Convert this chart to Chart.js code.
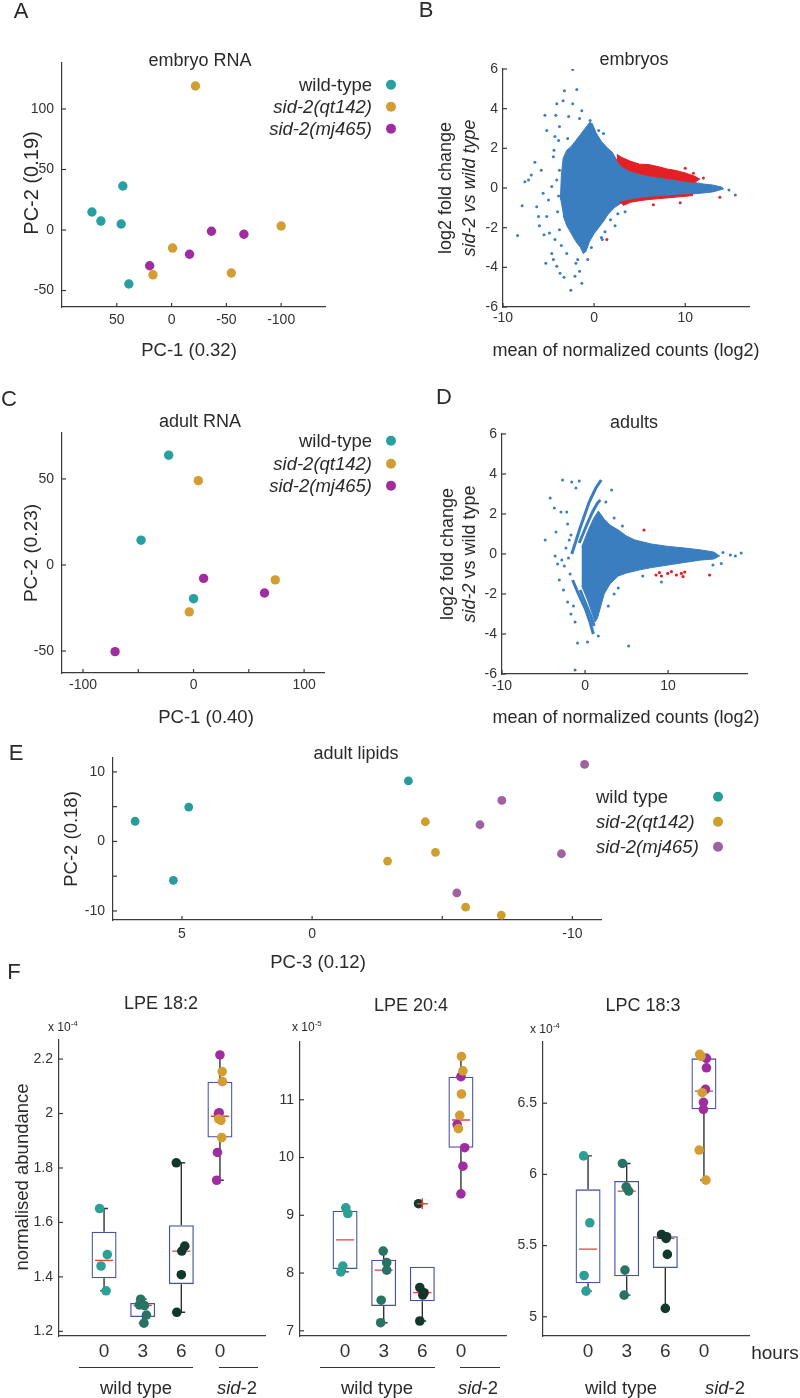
<!DOCTYPE html>
<html><head><meta charset="utf-8">
<script src="https://cdn.jsdelivr.net/npm/chart.js@4.4.1/dist/chart.umd.min.js"></script>
<style>
html,body{margin:0;padding:0;background:#fff;}
#page{position:relative;width:800px;height:1398px;overflow:hidden;font-family:"Liberation Sans",Arial,Helvetica,sans-serif;color:#2a2a2a;}
canvas.layer{position:absolute;left:0;top:0;width:800px;height:1398px;}
.t{position:absolute;white-space:nowrap;transform:translate(-50%,-50%);line-height:1;}
.r{transform:translate(-50%,-50%) rotate(-90deg);}
.letter{font-size:22px;}
.title{font-size:18px;}
.axt{font-size:18.5px;}
.leg{position:absolute;display:flex;align-items:center;justify-content:flex-end;font-size:18.5px;line-height:1;transform:translateY(-50%);white-space:nowrap;}
.legE{justify-content:space-between;width:127px;}
.dot{display:inline-block;width:10px;height:10px;border-radius:50%;margin-left:14px;}
.legE .dot{margin-left:0;}
.ul{position:absolute;height:0;border-top:1.3px solid #333;}
.sm{position:absolute;font-size:12px;line-height:1;transform:translateY(-50%);white-space:nowrap;}
.sm sup{font-size:8px;vertical-align:5px;line-height:0;}
</style></head>
<body>
<div id="page">
<canvas id="cA" class="layer" width="800" height="1398"></canvas>
<canvas id="cB" class="layer" width="800" height="1398"></canvas>
<canvas id="cC" class="layer" width="800" height="1398"></canvas>
<canvas id="cD" class="layer" width="800" height="1398"></canvas>
<canvas id="cE" class="layer" width="800" height="1398"></canvas>
<canvas id="cF1" class="layer" width="800" height="1398"></canvas>
<canvas id="cF2" class="layer" width="800" height="1398"></canvas>
<canvas id="cF3" class="layer" width="800" height="1398"></canvas>

<!-- panel letters -->
<div class="t letter" style="left:21px;top:11px">A</div>
<div class="t letter" style="left:426px;top:10px">B</div>
<div class="t letter" style="left:9px;top:399px">C</div>
<div class="t letter" style="left:444px;top:397px">D</div>
<div class="t letter" style="left:16px;top:753px">E</div>
<div class="t letter" style="left:14px;top:972px">F</div>

<!-- titles -->
<div class="t title" style="left:200px;top:60px">embryo RNA</div>
<div class="t title" style="left:634px;top:59px">embryos</div>
<div class="t title" style="left:200px;top:421px">adult RNA</div>
<div class="t title" style="left:634px;top:422px">adults</div>
<div class="t title" style="left:356px;top:753px">adult lipids</div>
<div class="t title" style="left:161px;top:1003px">LPE 18:2</div>
<div class="t title" style="left:411px;top:1005px">LPE 20:4</div>
<div class="t title" style="left:643px;top:1005px">LPC 18:3</div>

<!-- axis titles -->
<div class="t axt" style="left:189px;top:350px">PC-1 (0.32)</div>
<div class="t axt r" style="left:31px;top:183px;font-size:20px">PC-2 (0.19)</div>
<div class="t axt" style="left:626px;top:350px;font-size:18px">mean of normalized counts (log2)</div>
<div class="t axt r" style="left:445px;top:188px;font-size:18px">log2 fold change</div>
<div class="t axt r" style="left:469px;top:188px;font-size:18px"><i>sid-2 vs wild type</i></div>
<div class="t axt" style="left:206px;top:717px">PC-1 (0.40)</div>
<div class="t axt r" style="left:30px;top:553px;font-size:19px">PC-2 (0.23)</div>
<div class="t axt" style="left:626px;top:717px;font-size:18px">mean of normalized counts (log2)</div>
<div class="t axt r" style="left:447px;top:554px;font-size:18px">log2 fold change</div>
<div class="t axt r" style="left:469px;top:554px;font-size:18px"><i>sid-2</i> vs wild type</div>
<div class="t axt" style="left:318px;top:962px">PC-3 (0.12)</div>
<div class="t axt r" style="left:71px;top:839px">PC-2 (0.18)</div>
<div class="t axt r" style="left:22px;top:1177px">normalised abundance</div>

<!-- legends -->
<div class="leg" style="right:404px;top:85px"><span>wild-type</span><span class="dot" style="background:rgb(40,160,160)"></span></div>
<div class="leg" style="right:404px;top:107px"><i>sid-2(qt142)</i><span class="dot" style="background:rgb(210,157,50)"></span></div>
<div class="leg" style="right:404px;top:129px"><i>sid-2(mj465)</i><span class="dot" style="background:rgb(160,45,160)"></span></div>
<div class="leg" style="right:404px;top:441px"><span>wild-type</span><span class="dot" style="background:rgb(40,160,160)"></span></div>
<div class="leg" style="right:404px;top:464px"><i>sid-2(qt142)</i><span class="dot" style="background:rgb(210,157,50)"></span></div>
<div class="leg" style="right:404px;top:486px"><i>sid-2(mj465)</i><span class="dot" style="background:rgb(160,45,160)"></span></div>
<div class="leg legE" style="left:596px;top:797px"><span>wild type</span><span class="dot" style="background:rgb(40,155,155)"></span></div>
<div class="leg legE" style="left:596px;top:822px"><i>sid-2(qt142)</i><span class="dot" style="background:rgb(205,160,45)"></span></div>
<div class="leg legE" style="left:596px;top:847px"><i>sid-2(mj465)</i><span class="dot" style="background:rgb(158,98,160)"></span></div>

<!-- F annotations -->
<div class="sm" style="left:48px;top:1027px">x 10<sup>-4</sup></div>
<div class="sm" style="left:292px;top:1027px">x 10<sup>-5</sup></div>
<div class="sm" style="left:530px;top:1029px">x 10<sup>-4</sup></div>
<div class="ul" style="left:79px;top:1367px;width:114px"></div>
<div class="ul" style="left:219px;top:1367px;width:39px"></div>
<div class="ul" style="left:320px;top:1367px;width:115px"></div>
<div class="ul" style="left:460px;top:1367px;width:40px"></div>
<div class="t axt" style="left:136px;top:1388px">wild type</div>
<div class="t axt" style="left:237px;top:1388px"><i>sid</i>-2</div>
<div class="t axt" style="left:377px;top:1388px">wild type</div>
<div class="t axt" style="left:478px;top:1388px"><i>sid</i>-2</div>
<div class="t axt" style="left:621px;top:1388px">wild type</div>
<div class="t axt" style="left:725px;top:1388px"><i>sid</i>-2</div>
<div class="t axt" style="left:775px;top:1352px;font-size:19px">hours</div>
</div>

<script>
// ---------------- DATA ----------------
// Panel A: embryo RNA PCA (PC-1, PC-2)
const aWildX = [72.7, 64.5, 44.5, 46, 39];
const aWildY = [14.9, 7.4, 36.4, 5, -44.6];
const aQtX = [-21.8, -0.9, 17, -54.5, -100];
const aQtY = [119, -14.9, -37, -35.5, 3.3];
const aMjX = [20, -16.4, -36.4, -66];
const aMjY = [-29.5, -20, -1, -3.5];
const aTicksX = [-100, -50, 0, 50];
const aLabelsX = ['-100', '-50', '0', '50'];
const aTicksY = [-50, 0, 50, 100];
const aLabelsY = ['-50', '0', '50', '100'];

// Panel B: embryo MA plot (dense region outline + sparse genes)
const bCoreX = [-3.7,-3.6,-3.4,-3.0,-2.5,-2.0,-1.5,-1.0,-0.5,-0.2,0.2,0.8,1.5,2.0,2.5,3.0,4.0,5.0,6.0,7.0,8.0,9.0,10.0,11.0,12.0,13.0,14.0,14.2,13.0,12.0,10.8,10.0,9.0,8.0,7.0,6.0,5.0,4.0,3.0,2.2,1.5,1.0,0.5,0.0,-0.5,-0.9,-1.2,-1.5,-2.0,-2.5,-3.0,-3.4];
const bCoreY = [-0.6,0.6,1.5,1.9,2.1,2.4,2.7,3.0,3.3,3.25,2.8,2.35,2.0,1.8,1.4,1.1,0.85,0.72,0.62,0.55,0.48,0.42,0.33,0.28,0.2,0.15,0.05,-0.05,-0.2,-0.25,-0.3,-0.34,-0.37,-0.4,-0.44,-0.47,-0.52,-0.6,-0.75,-1.0,-1.35,-1.7,-2.0,-2.3,-2.7,-3.2,-3.3,-3.0,-2.7,-2.3,-1.9,-1.4];
const bRedUpX = [2.5,3.0,4.0,5.0,6.0,7.0,8.0,9.0,10.0,11.0,11.6,11.0,10.0,9.0,8.0,7.0,6.0,5.0,4.0,3.0,2.5];
const bRedUpY = [1.7,1.55,1.35,1.2,1.18,1.08,0.96,0.88,0.76,0.6,0.45,0.28,0.33,0.42,0.48,0.55,0.62,0.72,0.85,1.1,1.4];
const bRedLoX = [2.8,4.0,5.0,6.0,7.0,8.0,9.0,10.0,10.8,10.8,10.0,9.0,8.0,7.0,6.0,5.0,4.0,3.2];
const bRedLoY = [-0.72,-0.6,-0.52,-0.47,-0.44,-0.4,-0.37,-0.34,-0.3,-0.38,-0.42,-0.46,-0.5,-0.54,-0.58,-0.64,-0.72,-0.88];
const bSparseX = [-2.35,-1.9,-3.26,-3.4,-4.1,-2.35,-1.35,-5.4,-4.2,-5.2,-4.3,-3.8,-6.5,-7.2,-7.6,-6.9,-7.9,-8.4,-6.3,-6.1,-5.5,-5.3,-4.9,-4.3,-4.65,-4.47,-4.1,-3.74,-3.3,-2.56,-1.35,-2.1,-5.6,-5.0,-4.65,-5.2,-4.47,-0.44,1.03,15.5,14.8,1.2,0.8,-0.3,-0.7,-3.9,-4.4,-5.8,-6.0,-3.6,-2.8,-1.6,0.5,1.8,2.6,-3.0,-2.0,-1.6,-4.0,-3.8,-3.9,-4.1,-3.8,-2.9,-1.8,0.9,2.3,3.4];
const bSparseY = [5.98,4.97,4.9,4.4,4.25,4.25,3.9,3.67,3.67,2.9,2.6,3.1,1.3,0.4,0.32,0.65,-0.9,-2.4,-0.94,-1.44,-2.36,-3.8,-2.27,-2.6,-3.3,-3.6,-3.95,-4.3,-4.5,-5.16,-4.8,-4.45,-0.27,-0.6,0.07,-1.44,1.57,3.4,2.75,-0.35,-0.1,-2.2,-2.5,-3.0,-3.6,2.4,1.9,0.9,-1.9,-2.9,3.6,3.5,2.9,-1.6,-1.3,-3.3,-3.8,-4.2,-1.2,0.9,-0.4,0.4,-2.1,2.5,-3.6,-2.6,-1.9,-1.2];
const bRedPtsX = [1.4, 9.45, 13.8, 10.0, 10.9, 12.0, 6.5];
const bRedPtsY = [-2.6, -0.74, -0.47, 0.99, 0.74, 0.5, -0.85];
const maTicksX = [-10, 0, 10];
const maLabelsX = ['-10', '0', '10'];
const maTicksY = [-6, -4, -2, 0, 2, 4, 6];
const maLabelsY = ['-6', '-4', '-2', '0', '2', '4', '6'];

// Panel C: adult RNA PCA
const cWildX = [-22.5, -47.5, 0];
const cWildY = [63.8, 14.4, -19.6];
const cQtX = [4.3, 73.9, -3.9];
const cQtY = [49, -8.7, -27.3];
const cMjX = [9.1, 64.2, -71];
const cMjY = [-7.8, -16.3, -50.4];
const cTicksX = [-100, -50, 0, 50, 100];
const cLabelsX = ['-100', '', '0', '', '100'];
const cTicksY = [-50, 0, 50];
const cLabelsY = ['-50', '0', '50'];

// Panel D: adult MA plot
const dCoreX = [-0.4,0.3,1.0,1.6,2.3,3.0,4.0,5.0,6.0,8.0,10.0,12.0,14.0,15.5,16.2,15.5,14.0,12.0,10.0,8.0,6.5,5.0,4.0,3.0,2.3,1.9,1.5,1.2,0.8,0.3,-0.4];
const dCoreY = [0.35,1.1,1.75,2.15,1.75,1.45,1.2,0.9,0.7,0.5,0.38,0.3,0.2,0.1,-0.1,-0.25,-0.3,-0.42,-0.55,-0.68,-0.8,-0.95,-1.1,-1.5,-2.0,-2.6,-3.2,-3.4,-2.9,-2.3,-1.6];
const dStreak1X = [-1.6, -0.6, 0.5, 1.3, 1.95];
const dStreak1Y = [0.0, 1.3, 2.6, 3.3, 3.7];
const dStreak2X = [-0.7, 0.2, 0.9, 1.5, 1.85];
const dStreak2Y = [0.55, 1.45, 2.1, 2.55, 2.7];
const dStreak3X = [-1.5, -0.8, 0.0, 0.6, 1.0];
const dStreak3Y = [-1.3, -2.0, -2.7, -3.4, -4.0];
const dStreak4X = [-0.6, 0.1, 0.7, 1.1];
const dStreak4Y = [-1.8, -2.5, -3.1, -3.6];
const dSparseX = [-4.8,-4.2,-3.7,-2.7,-1.6,-0.7,-1.1,3.2,-3.5,-2.9,-2.2,-2.1,-3.6,-3.3,-3.1,-2.5,-1.9,-1.7,-2.3,-2.0,-2.8,-1.8,-2.6,-2.1,-1.4,-1.7,-1.2,-0.9,0.3,1.6,5.25,-1.2,6.95,9.2,15.4,16.4,16.6,17.5,18.1,18.8,2.5,3.5,4.5,2.8,3.5,4.0];
const dSparseY = [0.7,2.8,2.3,3.7,3.6,3.65,3.3,3.2,1.1,2.1,2.1,1.5,-0.1,-0.5,-1.3,-0.6,0.7,0.95,0.3,-0.2,-0.3,-1.0,-1.8,-2.4,-2.6,-3.0,-3.4,-4.45,-4.4,-4.1,-4.6,-5.8,-1.1,-1.4,-0.55,-0.47,0.07,-0.05,-0.1,0.05,2.6,1.8,1.4,-2.6,-2.0,-1.7];
const dRedPtsX = [7.1, 8.55, 8.95, 9.96, 10.4, 11.0, 11.6, 12.0, 11.8, 9.2, 15.0];
const dRedPtsY = [1.2, -1.05, -0.93, -0.97, -0.88, -1.05, -0.97, -0.9, -1.13, -1.1, -1.05];

// Panel E: adult lipids PCA (PC-3, PC-2)
const eWildX = [6.8, 4.74, 5.33, -3.7];
const eWildY = [2.9, 4.94, -5.6, 8.7];
const eQtX = [-4.35, -4.74, -2.9, -5.9, -7.27];
const eQtY = [2.83, -1.58, -2.83, -9.45, -10.6];
const eMjX = [-10.47, -7.29, -6.45, -9.58, -5.56];
const eMjY = [11.08, 5.9, 2.4, -1.77, -7.4];
const eTicksX = [-10, -5, 0, 5];
const eLabelsX = ['-10', '', '0', '5'];
const eTicksY = [-10, -5, 0, 5, 10];
const eLabelsY = ['-10', '', '0', '', '10'];

// Panel F: box plots (groups: wild type 0h, 3h, 6h, sid-2 0h)
const fGroups = [1, 2, 3, 4];
const fGroupLabels = ['0', '3', '6', '0'];
// LPE 18:2 (x 1e-4)
const f1Q1 = [1.395, 1.2525, 1.3735, 1.912];
const f1Med = [1.461, 1.295, 1.495, 1.99];
const f1Q3 = [1.566, 1.3045, 1.59, 2.117];
const f1Lo = [1.349, 1.23, 1.27, 1.755];
const f1Hi = [1.651, 1.318, 1.819, 2.215];
const f1Wt0 = [1.651, 1.482, 1.44, 1.349];
const f1Wt3 = [1.318, 1.297, 1.295, 1.26, 1.23];
const f1Wt6 = [1.819, 1.513, 1.495, 1.408, 1.27];
const f1Qt = [2.154, 2.117, 1.98, 1.975, 1.912];
const f1Mj = [2.215, 2.003, 2.0, 1.857, 1.755];
const f1TicksY = [1.2, 1.4, 1.6, 1.8, 2.0, 2.2];
const f1LabelsY = ['1.2', '1.4', '1.6', '1.8', '2', '2.2'];
// LPE 20:4 (x 1e-5)
const f2Q1 = [8.07, 7.43, 7.51, 10.17];
const f2Med = [8.575, 8.05, 7.66, 10.65];
const f2Q3 = [9.08, 8.23, 8.11, 11.4];
const f2Lo = [8.02, 7.14, 7.17, 9.37];
const f2Hi = [9.13, 8.38, null, 11.75];
const f2Wt0 = [9.13, 9.03, 8.12, 8.02];
const f2Wt3 = [8.38, 8.18, 8.05, 7.53, 7.14];
const f2Wt6 = [9.2, 7.75, 7.66, 7.62, 7.17];
const f2Qt = [11.75, 11.5, 11.1, 10.73, 10.5];
const f2Mj = [11.4, 10.57, 10.17, 9.85, 9.37];
const f2OutGroup = [3];
const f2OutVal = [9.2];
const f2TicksY = [7, 8, 9, 10, 11];
const f2LabelsY = ['7', '8', '9', '10', '11'];
// LPC 18:3 (x 1e-4)
const f3Q1 = [5.235, 5.284, 5.343, 6.457];
const f3Med = [5.475, 5.883, 5.55, 6.585];
const f3Q3 = [5.895, 5.954, 5.566, 6.815];
const f3Lo = [5.18, 5.152, 5.059, 5.96];
const f3Hi = [6.13, 6.077, 5.578, 6.843];
const f3Wt0 = [6.13, 5.66, 5.29, 5.18];
const f3Wt3 = [6.077, 5.913, 5.883, 5.328, 5.152];
const f3Wt6 = [5.578, 5.562, 5.55, 5.438, 5.059];
const f3Qt = [6.843, 6.83, 6.574, 6.171, 5.96];
const f3Mj = [6.815, 6.749, 6.597, 6.506, 6.457];
const f3TicksY = [5, 5.5, 6, 6.5];
const f3LabelsY = ['5', '5.5', '6', '6.5'];

// horizontal jitter of the overlaid dots (layout, in group units)
const j1 = {wt0:[-0.117,0.084,-0.078,0.052], wt3:[-0.052,-0.084,0.045,0.097,0.032], wt6:[-0.13,0.09,0.013,0,-0.117], qt:[0.058,0.065,-0.032,0.026,0.045], mj:[0,-0.019,-0.039,-0.065,-0.084]};
const j2 = {wt0:[0.019,0.071,-0.058,-0.11], wt3:[-0.013,0.078,0.078,-0.065,-0.078], wt6:[-0.097,-0.065,0.045,0.013,-0.065], qt:[0.013,0.052,0.013,-0.032,-0.065], mj:[0,-0.097,0.097,0.052,0]};
const j3 = {wt0:[-0.116,0.045,-0.103,-0.052], wt3:[-0.11,-0.013,0.052,-0.045,-0.065], wt6:[-0.097,0.032,0.019,0.052,0], qt:[-0.11,-0.078,-0.045,-0.123,0.052], mj:[0.065,0.065,0.039,-0.013,-0.013]};

// ---------------- STYLE ----------------
const FONT = '"Liberation Sans", Arial, Helvetica, sans-serif';
Chart.defaults.font.family = FONT;
const W = 800, H = 1398;
const TEAL = 'rgb(40,160,160)', OCHRE = 'rgb(210,157,50)', PURPLE = 'rgb(160,45,160)';
const E_TEAL = 'rgb(40,155,155)', E_OCHRE = 'rgb(205,160,45)', E_PURPLE = 'rgb(158,98,160)';
const MA_BLUE = 'rgb(58,126,192)', MA_RED = 'rgb(228,32,36)';
const BOX = 'rgb(72,82,165)', MED = 'rgb(232,62,55)', WHISK = '#333';
const WT0 = 'rgb(45,160,150)', WT3 = 'rgb(40,115,100)', WT6 = 'rgb(18,55,45)';
const AXC = '#3a3a3a';

function xy(xs, ys) { return xs.map((x, i) => ({x: x, y: ys[i]})); }
function dots(xs, ys, color, r, order) {
  return {type: 'scatter', data: xy(xs, ys), pointRadius: r, pointHoverRadius: r,
    backgroundColor: color, borderColor: color, borderWidth: 0, order: order || 0};
}
function poly(xs, ys, color, order) {
  return {type: 'line', data: xy(xs, ys), borderColor: color, backgroundColor: color,
    borderWidth: 1, pointRadius: 0, fill: 'shape', tension: 0, order: order};
}
function streak(xs, ys, color, w, order) {
  return {type: 'line', data: xy(xs, ys), borderColor: color, borderWidth: w,
    pointRadius: 0, fill: false, tension: 0, order: order};
}

const inTicks = {
  id: 'inTicks',
  afterDraw(chart, args, opts) {
    const ctx = chart.ctx, a = chart.chartArea;
    const xs = chart.scales.x, ys = chart.scales.y;
    ctx.save();
    ctx.strokeStyle = AXC; ctx.lineWidth = 1.2;
    if (opts.xLen) xs.ticks.forEach(t => {
      const p = xs.getPixelForValue(t.value);
      ctx.beginPath(); ctx.moveTo(p, a.bottom); ctx.lineTo(p, a.bottom - opts.xLen); ctx.stroke();
    });
    if (opts.yLen) ys.ticks.forEach(t => {
      const p = ys.getPixelForValue(t.value);
      ctx.beginPath(); ctx.moveTo(a.left, p); ctx.lineTo(a.left + opts.yLen, p); ctx.stroke();
    });
    ctx.restore();
  }
};

function axis(o, isX, size) {
  return {
    type: 'linear', position: isX ? 'bottom' : 'left',
    min: o.min, max: o.max, reverse: !!o.reverse, bounds: 'data',
    grid: {display: false, drawTicks: false},
    border: {display: true, color: AXC, width: 1.2},
    ticks: {font: {family: FONT, size: o.size || 14}, color: '#333', padding: o.pad,
      maxRotation: 0, minRotation: 0, autoSkip: false,
      callback: (v, i) => o.labels[i]},
    afterBuildTicks: s => { s.ticks = o.ticks.map(v => ({value: v})); },
    afterFit: s => { if (isX) s.height = size; else s.width = size; }
  };
}

function makeChart(id, area, xo, yo, datasets, tickLens) {
  return new Chart(document.getElementById(id), {
    type: 'scatter',
    data: {datasets: datasets},
    options: {
      responsive: false, animation: false, devicePixelRatio: 1, events: [],
      layout: {padding: {left: 0, top: area.t, right: W - area.r, bottom: 0}},
      plugins: {legend: {display: false}, tooltip: {enabled: false}, title: {display: false},
        inTicks: tickLens},
      scales: {x: axis(xo, true, H - area.b), y: axis(yo, false, area.l)}
    },
    plugins: [inTicks]
  });
}

// ---------------- A ----------------
makeChart('cA', {l: 62, t: 63, r: 325, b: 307},
  {min: -140, max: 100, reverse: true, ticks: aTicksX, labels: aLabelsX, pad: 5},
  {min: -63.6, max: 138, ticks: aTicksY, labels: aLabelsY, pad: 8},
  [dots(aWildX, aWildY, TEAL, 4.7), dots(aQtX, aQtY, OCHRE, 4.7), dots(aMjX, aMjY, PURPLE, 4.7)],
  {xLen: 4, yLen: 4});

// ---------------- B ----------------
makeChart('cB', {l: 503, t: 69, r: 749, b: 307},
  {min: -10, max: 17, ticks: maTicksX, labels: maLabelsX, pad: 3},
  {min: -6, max: 6, ticks: maTicksY, labels: maLabelsY, pad: 5},
  [poly(bCoreX, bCoreY, MA_BLUE, 3),
   poly(bRedUpX, bRedUpY, MA_RED, 1),
   poly(bRedLoX, bRedLoY, MA_RED, 1),
   dots(bSparseX, bSparseY, MA_BLUE, 1.5, 2),
   dots(bRedPtsX, bRedPtsY, MA_RED, 1.5, 0)],
  {xLen: 4, yLen: 4});

// ---------------- C ----------------
makeChart('cC', {l: 62, t: 433, r: 324, b: 673},
  {min: -119, max: 118, ticks: cTicksX, labels: cLabelsX, pad: 4},
  {min: -62.8, max: 76.7, ticks: cTicksY, labels: cLabelsY, pad: 8},
  [dots(cWildX, cWildY, TEAL, 4.7), dots(cQtX, cQtY, OCHRE, 4.7), dots(cMjX, cMjY, PURPLE, 4.7)],
  {xLen: 4, yLen: 4});

// ---------------- D ----------------
makeChart('cD', {l: 502, t: 434, r: 747, b: 674},
  {min: -10, max: 19.5, ticks: maTicksX, labels: maLabelsX, pad: 4},
  {min: -6, max: 6, ticks: maTicksY, labels: maLabelsY, pad: 5},
  [poly(dCoreX, dCoreY, MA_BLUE, 3),
   streak(dStreak1X, dStreak1Y, MA_BLUE, 3, 3),
   streak(dStreak2X, dStreak2Y, MA_BLUE, 3, 3),
   streak(dStreak3X, dStreak3Y, MA_BLUE, 3, 3),
   streak(dStreak4X, dStreak4Y, MA_BLUE, 3, 3),
   dots(dSparseX, dSparseY, MA_BLUE, 1.5, 2),
   dots(dRedPtsX, dRedPtsY, MA_RED, 1.6, 0)],
  {xLen: 4, yLen: 4});

// ---------------- E ----------------
makeChart('cE', {l: 113, t: 758, r: 601, b: 920},
  {min: -11.1, max: 7.65, reverse: true, ticks: eTicksX, labels: eLabelsX, pad: 6},
  {min: -11.3, max: 12, ticks: eTicksY, labels: eLabelsY, pad: 8},
  [dots(eWildX, eWildY, E_TEAL, 4.4), dots(eQtX, eQtY, E_OCHRE, 4.4), dots(eMjX, eMjY, E_PURPLE, 4.4)],
  {xLen: 4, yLen: 4});

// ---------------- F ----------------
const HB = 0.235, CAP = 0.1;
function boxSet(q1, med, q3, lo, hi) {
  const wd = [];
  fGroups.forEach((c, i) => {
    if (hi[i] != null && hi[i] > q3[i]) {
      wd.push({x: c, y: q3[i]}, {x: c, y: hi[i]}, {x: c, y: null});
      wd.push({x: c - CAP, y: hi[i]}, {x: c + CAP, y: hi[i]}, {x: c, y: null});
    }
    if (lo[i] != null && lo[i] < q1[i]) {
      wd.push({x: c, y: q1[i]}, {x: c, y: lo[i]}, {x: c, y: null});
      wd.push({x: c - CAP, y: lo[i]}, {x: c + CAP, y: lo[i]}, {x: c, y: null});
    }
  });
  const md = [];
  fGroups.forEach((c, i) => { md.push({x: c - HB, y: med[i]}, {x: c + HB, y: med[i]}, {x: c, y: null}); });
  return [
    {type: 'line', data: wd, borderColor: WHISK, borderWidth: 1.4, pointRadius: 0, fill: false, spanGaps: false, tension: 0, order: 4},
    {type: 'bar', data: fGroups.map((c, i) => ({x: c, y: [q1[i], q3[i]]})), backgroundColor: 'rgba(0,0,0,0)',
      borderColor: BOX, borderWidth: 1.3, borderSkipped: false, barThickness: 25, inflateAmount: 0, order: 3},
    {type: 'line', data: md, borderColor: MED, borderWidth: 1.3, pointRadius: 0, fill: false, spanGaps: false, tension: 0, order: 2}
  ];
}
function groupDots(pos, vals, jit, color) {
  return {type: 'scatter', data: vals.map((v, i) => ({x: pos + jit[i], y: v})),
    pointRadius: 4.8, pointHoverRadius: 4.8, backgroundColor: color, borderColor: color, borderWidth: 0, order: 0};
}
function fDots(wt0, wt3, wt6, qt, mj, j) {
  return [groupDots(fGroups[0], wt0, j.wt0, WT0), groupDots(fGroups[1], wt3, j.wt3, WT3),
    groupDots(fGroups[2], wt6, j.wt6, WT6), groupDots(fGroups[3], qt, j.qt, OCHRE), groupDots(fGroups[3], mj, j.mj, PURPLE)];
}
const fx = {min: 0.5, max: 4.5, ticks: fGroups, labels: fGroupLabels, pad: 4, size: 19};

makeChart('cF1', {l: 59, t: 1040, r: 265, b: 1336}, fx,
  {min: 1.183, max: 2.27, ticks: f1TicksY, labels: f1LabelsY, pad: 6},
  boxSet(f1Q1, f1Med, f1Q3, f1Lo, f1Hi).concat(fDots(f1Wt0, f1Wt3, f1Wt6, f1Qt, f1Mj, j1)),
  {xLen: 0, yLen: 4});

makeChart('cF2', {l: 300, t: 1042, r: 506, b: 1336}, fx,
  {min: 6.91, max: 12.0, ticks: f2TicksY, labels: f2LabelsY, pad: 6},
  boxSet(f2Q1, f2Med, f2Q3, f2Lo, f2Hi).concat(fDots(f2Wt0, f2Wt3, f2Wt6, f2Qt, f2Mj, j2)).concat([
    {type: 'scatter', data: xy(f2OutGroup, f2OutVal), pointStyle: 'cross', pointRadius: 5.5,
      borderColor: MED, backgroundColor: MED, borderWidth: 1.4, order: -1}]),
  {xLen: 0, yLen: 4});

makeChart('cF3', {l: 543, t: 1042, r: 749, b: 1336}, fx,
  {min: 4.865, max: 6.93, ticks: f3TicksY, labels: f3LabelsY, pad: 6},
  boxSet(f3Q1, f3Med, f3Q3, f3Lo, f3Hi).concat(fDots(f3Wt0, f3Wt3, f3Wt6, f3Qt, f3Mj, j3)),
  {xLen: 0, yLen: 4});
</script>
</body></html>
